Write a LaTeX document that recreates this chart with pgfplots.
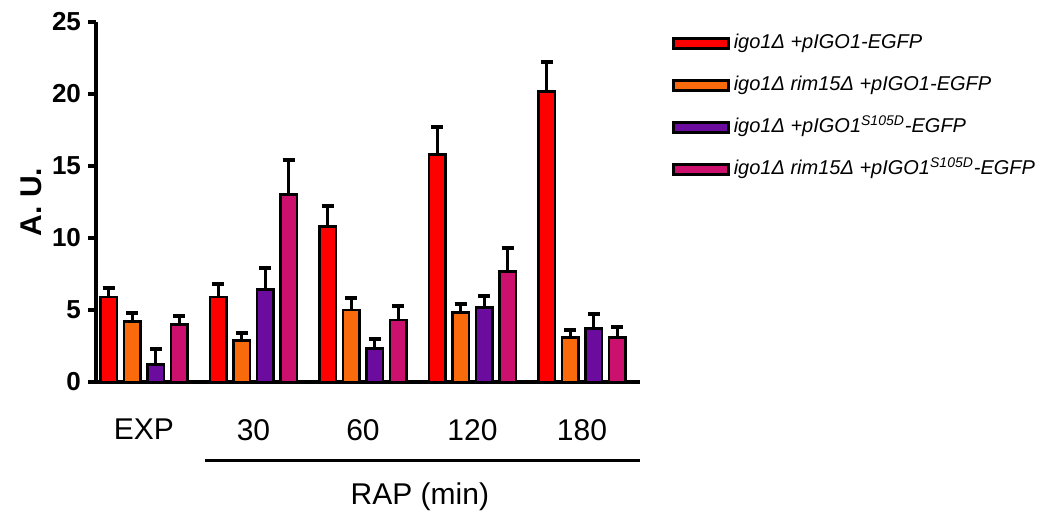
\documentclass[border=0pt]{standalone}
\usepackage{fontspec}
\setmainfont{Liberation Sans}
\usepackage{pgfplots}
\pgfplotsset{compat=1.18}
\definecolor{cred}{HTML}{FF0000}
\definecolor{corange}{HTML}{F86A0C}
\definecolor{cpurple}{HTML}{6C0C9E}
\definecolor{cpink}{HTML}{CC106E}
\begin{document}
\begin{tikzpicture}
\path[use as bounding box] (-48pt,-65.5pt) rectangle (472pt,191pt);
\begin{axis}[
    at={(0,0)}, anchor=south west,
    scale only axis, width=272pt, height=180pt,
    xmin=-0.438, xmax=4.53, ymin=0, ymax=25,
    axis x line*=bottom, axis y line*=left,
    axis line style={-, line width=2pt},
    ybar, bar width=8.25pt, bar shift=0pt,
    ytick={0,5,...,25},
    xtick={0,1,2,3,4},
    xticklabels={EXP,30,60,120,180},
    xtick style={draw=none},
    ytick style={line width=2pt, black},
    tick align=outside, major tick length=4pt,
    /pgf/number format/assume math mode=true,
    yticklabel style={font=\bfseries\fontsize{13}{15}\selectfont, xshift=0pt},
    xticklabel style={font=\fontsize{15}{17}\selectfont, yshift=-11pt},
    ylabel={\textbf{A. U.}},
    ylabel style={font=\fontsize{15}{17}\selectfont, yshift=-2pt},
    clip=false,
    every axis plot/.append style={draw=black, line width=1.4pt},
    error bars/y dir=plus, error bars/y explicit,
    error bars/error bar style={line width=1.4pt, black},
    error bars/error mark options={rotate=90, mark size=3pt, line width=2pt, black},
    legend image code/.code={\draw[#1, draw=black, line width=1.4pt] (0pt,-2.5pt) rectangle (27.5pt,2.5pt);},
    legend cell align=left,
    legend style={draw=none, fill=none, at={(1.047,0.982)}, anchor=north west,
        font=\fontsize{10}{12}\selectfont\itshape, row sep=10.5pt,
        nodes={inner xsep=2pt, inner ysep=0pt, text height=8pt, text depth=2.5pt}},
]
\addplot[fill=cred] coordinates {
    (-0.322,5.9) +- (0,0.6)
    (0.678,5.9) +- (0,0.9)
    (1.678,10.8) +- (0,1.4)
    (2.678,15.8) +- (0,1.9)
    (3.678,20.2) +- (0,2.0)};
\addplot[fill=corange] coordinates {
    (-0.107,4.2) +- (0,0.6)
    (0.893,2.9) +- (0,0.5)
    (1.893,5.0) +- (0,0.8)
    (2.893,4.8) +- (0,0.6)
    (3.893,3.1) +- (0,0.5)};
\addplot[fill=cpurple] coordinates {
    (0.107,1.2) +- (0,1.1)
    (1.107,6.4) +- (0,1.5)
    (2.107,2.3) +- (0,0.7)
    (3.107,5.2) +- (0,0.8)
    (4.107,3.7) +- (0,1.0)};
\addplot[fill=cpink] coordinates {
    (0.322,4.0) +- (0,0.6)
    (1.322,13.0) +- (0,2.4)
    (2.322,4.3) +- (0,1.0)
    (3.322,7.7) +- (0,1.6)
    (4.322,3.1) +- (0,0.7)};
\legend{igo1Δ +pIGO1-EGFP,
        igo1Δ rim15Δ +pIGO1-EGFP,
        igo1Δ +pIGO1\textsuperscript{S105D}-EGFP,
        igo1Δ rim15Δ +pIGO1\textsuperscript{S105D}-EGFP}
\draw[line width=1.5pt] (axis cs:0.557,-5.42) -- (axis cs:4.53,-5.42);
\node[font=\fontsize{15}{17}\selectfont] at (axis cs:2.52,-7.99) {RAP (min)};
\end{axis}
\end{tikzpicture}
\end{document}
